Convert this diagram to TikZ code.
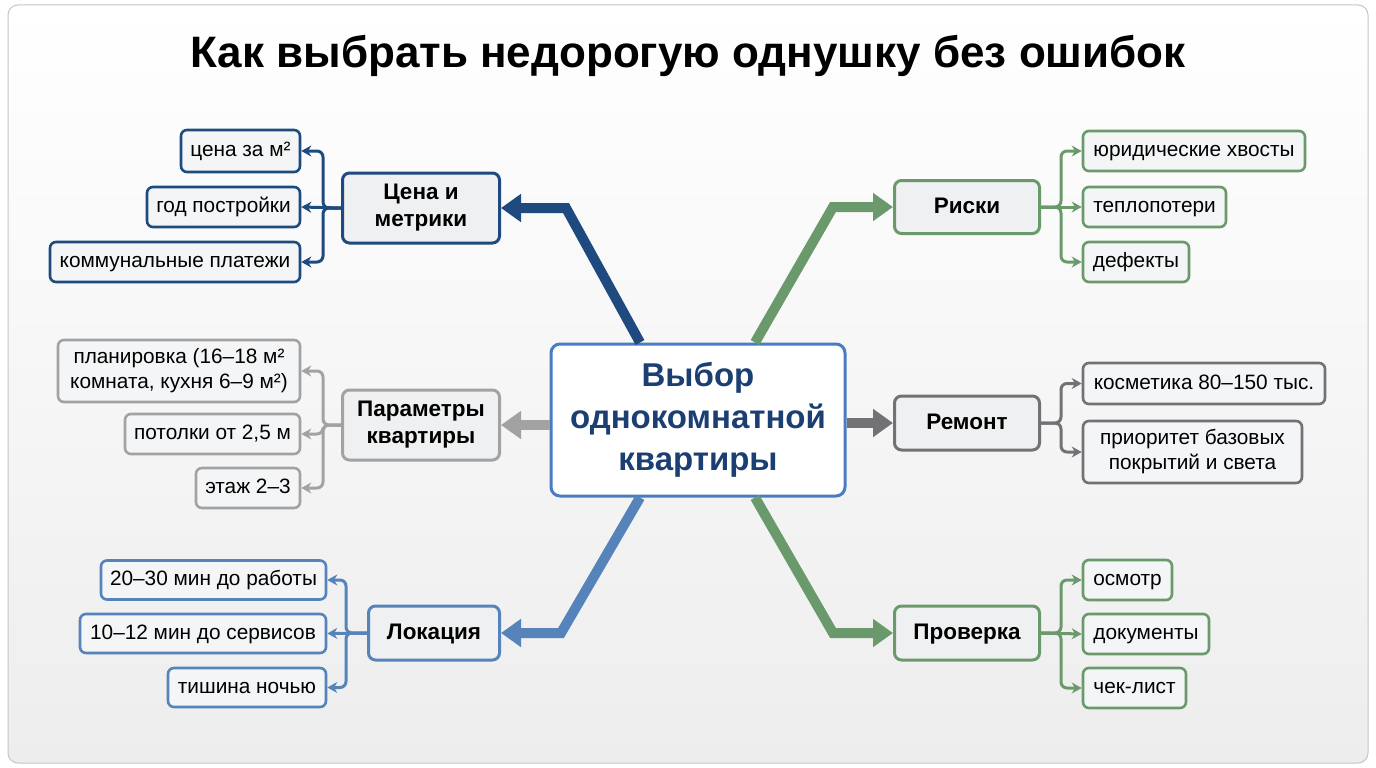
\documentclass[tikz,border=0pt]{standalone}
\usepackage{fontspec}
\setmainfont{Liberation Sans}
\usetikzlibrary{arrows.meta}
\definecolor{dblue}{HTML}{1E4A80}
\definecolor{mblue}{HTML}{5583BA}
\definecolor{cblue}{HTML}{4A7CC2}
\definecolor{ctext}{HTML}{1C3F73}
\definecolor{lgray}{HTML}{A2A2A2}
\definecolor{dgray}{HTML}{727276}
\definecolor{green1}{HTML}{6A9A6C}
\definecolor{bfill}{HTML}{EFF0F1}
\definecolor{cfill}{HTML}{F4F5F6}
\begin{document}
\begin{tikzpicture}[x=1pt,y=-1pt,
  child/.style={draw=#1, rounded corners=6pt, line width=2.6pt, fill=cfill,
    font=\fontsize{20.8}{25}\selectfont, align=center, inner sep=0pt},
  branch/.style={draw=#1, rounded corners=7pt, line width=3pt, fill=bfill,
    font=\bfseries\fontsize{22.5}{27}\selectfont, align=center, inner sep=0pt},
  oneline/.style={text height=13pt, text depth=2pt},
  bonline/.style={text height=14pt, text depth=2pt},
  bigarrow/.style={draw=#1, line width=10pt, line join=miter,
    -{Triangle[length=20pt,width=27pt]}},
  smallarrow/.style={draw=#1, line width=3pt, rounded corners=6pt,
    -{Stealth[length=10pt,width=11pt]}}
]
\useasboundingbox (0,0) rectangle (1376,768);
\fill[white] (0,0) rectangle (1376,768);
\draw[rounded corners=10pt, draw=gray!45, line width=1pt, top color=white, bottom color=black!7]
  (8,5) rectangle (1368,763);

\node[font=\bfseries\fontsize{44}{52}\selectfont] (title) at (688,56) {Как выбрать недорогую однушку без ошибок};

% center
\node[draw=cblue, line width=3pt, rounded corners=9pt, fill=white, minimum width=294pt, minimum height=152pt,
  font=\bfseries\fontsize{33}{42}\selectfont, text=ctext, align=center, inner sep=0pt] (ctr) at (698,420)
  {Выбор\\однокомнатной\\квартиры};

% branches
\node[branch=dblue, minimum width=157pt, minimum height=70pt] (cena) at (421,208) {Цена и\\метрики};
\node[branch=lgray, minimum width=157pt, minimum height=70pt] (par) at (421,425) {Параметры\\квартиры};
\node[branch=mblue, bonline, minimum width=131pt, minimum height=54pt] (lok) at (434,633) {Локация};
\node[branch=green1, bonline, minimum width=145pt, minimum height=53pt] (risk) at (967,207) {Риски};
\node[branch=dgray, bonline, minimum width=145pt, minimum height=54pt] (rem) at (967,423) {Ремонт};
\node[branch=green1, bonline, minimum width=145pt, minimum height=54pt] (prov) at (967,633) {Проверка};

% children left
\node[child=dblue, oneline, minimum width=119pt, minimum height=42pt] (c1) at (240.5,151) {цена за м²};
\node[child=dblue, oneline, minimum width=153pt, minimum height=40pt] (c2) at (223.5,207) {год постройки};
\node[child=dblue, oneline, minimum width=250pt, minimum height=40pt] (c3) at (175,262) {коммунальные платежи};

\node[child=lgray, minimum width=242pt, minimum height=62pt] (p1) at (179,371) {планировка (16–18 м²\\комната, кухня 6–9 м²)};
\node[child=lgray, oneline, minimum width=175pt, minimum height=40pt] (p2) at (212.5,434) {потолки от 2,5 м};
\node[child=lgray, oneline, minimum width=104pt, minimum height=40pt] (p3) at (248,488) {этаж 2–3};

\node[child=mblue, oneline, minimum width=225pt, minimum height=39pt] (l1) at (213.5,580) {20–30 мин до работы};
\node[child=mblue, oneline, minimum width=246pt, minimum height=39pt] (l2) at (203,633.5) {10–12 мин до сервисов};
\node[child=mblue, oneline, minimum width=158pt, minimum height=39pt] (l3) at (247,687.5) {тишина ночью};

% children right
\node[child=green1, oneline, minimum width=222pt, minimum height=40pt] (r1) at (1194,151) {юридические хвосты};
\node[child=green1, oneline, minimum width=143pt, minimum height=40pt] (r2) at (1154.5,207) {теплопотери};
\node[child=green1, oneline, minimum width=106pt, minimum height=40pt] (r3) at (1136,262) {дефекты};

\node[child=dgray, oneline, minimum width=242pt, minimum height=41pt] (m1) at (1204,383.5) {косметика 80–150 тыс.};
\node[child=dgray, minimum width=219pt, minimum height=62pt] (m2) at (1192.5,452) {приоритет базовых\\покрытий и света};

\node[child=green1, oneline, minimum width=89pt, minimum height=40pt] (v1) at (1127.5,580) {осмотр};
\node[child=green1, oneline, minimum width=126pt, minimum height=40pt] (v2) at (1146,634) {документы};
\node[child=green1, oneline, minimum width=103pt, minimum height=40pt] (v3) at (1134.5,688) {чек-лист};

% big arrows
\draw[bigarrow=dblue] ([xshift=-58pt]ctr.north) -- ([xshift=65pt]cena.east) -- (cena.east);
\draw[bigarrow=lgray] (ctr.west |- par.east) -- (par.east);
\draw[bigarrow=mblue] ([xshift=-58pt]ctr.south) -- ([xshift=60pt]lok.east) -- (lok.east);
\draw[bigarrow=green1] ([xshift=57pt]ctr.north) -- ([xshift=-60pt]risk.west) -- (risk.west);
\draw[bigarrow=dgray] (ctr.east |- rem.west) -- (rem.west);
\draw[bigarrow=green1] ([xshift=57pt]ctr.south) -- ([xshift=-60pt]prov.west) -- (prov.west);

% small connectors left
\draw[smallarrow=dblue] (cena.west) -- ++(-18,0) |- (c1.east);
\draw[smallarrow=dblue] (cena.west) -- (c2.east);
\draw[smallarrow=dblue] (cena.west) -- ++(-18,0) |- (c3.east);

\draw[smallarrow=lgray] (par.west) -- ++(-18,0) |- (p1.east);
\draw[smallarrow=lgray] (par.west) -- ++(-18,0) |- (p2.east);
\draw[smallarrow=lgray] (par.west) -- ++(-18,0) |- (p3.east);

\draw[smallarrow=mblue] (lok.west) -- ++(-21,0) |- (l1.east);
\draw[smallarrow=mblue] (lok.west) -- (l2.east);
\draw[smallarrow=mblue] (lok.west) -- ++(-21,0) |- (l3.east);

% small connectors right
\draw[smallarrow=green1] (risk.east) -- ++(20,0) |- (r1.west);
\draw[smallarrow=green1] (risk.east) -- (r2.west);
\draw[smallarrow=green1] (risk.east) -- ++(20,0) |- (r3.west);

\draw[smallarrow=dgray] (rem.east) -- ++(20,0) |- (m1.west);
\draw[smallarrow=dgray] (rem.east) -- ++(20,0) |- (m2.west);

\draw[smallarrow=green1] (prov.east) -- ++(20,0) |- (v1.west);
\draw[smallarrow=green1] (prov.east) -- (v2.west);
\draw[smallarrow=green1] (prov.east) -- ++(20,0) |- (v3.west);
\end{tikzpicture}
\end{document}
